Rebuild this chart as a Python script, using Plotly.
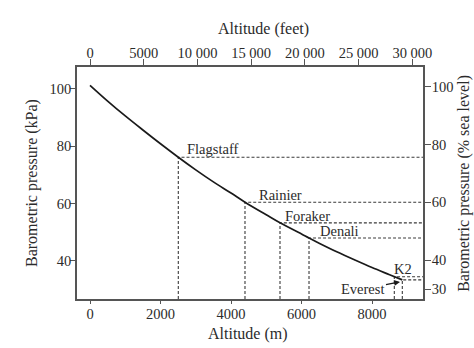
import plotly.graph_objects as go

# Curve: altitude (m) vs barometric pressure (kPa)
alt_m = [0, 500, 1000, 1500, 2000, 2505, 3000, 3500, 4000, 4397, 5000, 5390,
         6000, 6213, 6500, 7000, 7500, 8000, 8500, 8860]
press_kpa = [101.3, 95.8, 90.6, 85.7, 80.9, 76.2, 71.8, 67.6, 63.7, 60.5, 56.1, 53.3,
             49.4, 48.0, 46.2, 43.2, 40.4, 37.7, 35.2, 33.4]

# Peaks
peak_names = ["Flagstaff", "Rainier", "Foraker", "Denali", "K2", "Everest"]
peak_alt = [2505, 4397, 5390, 6213, 8633, 8860]
peak_press = [76.2, 60.5, 53.3, 48.0, 34.5, 33.4]
# label anchor positions (data units)
label_x = [3489, 5390, 6156, 7092, 8879, 7700]
label_y = [79.1, 63.0, 55.7, 50.5, 37.2, 30.2]

xm_ticks = [0, 2000, 4000, 6000, 8000]
ft_ticks = [0, 5000, 10000, 15000, 20000, 25000, 30000]
ft_labels = ["0", "5000", "10 000", "15 000", "20 000", "25 000", "30 000"]
kpa_ticks = [40, 60, 80, 100]
pct_ticks = [30, 40, 60, 80, 100]

XR = [-369, 9447]
YR = [26.74, 107.67]
Y2R = [26.54, 106.8]

FONT = "Liberation Serif, Times New Roman, serif"
TXT = "#2b2b2b"
AX = "#555555"
TICKF = dict(family=FONT, size=14.5, color=TXT)
TITLEF = dict(family=FONT, size=16, color=TXT)

fig = go.Figure()

# dashed guide lines
for a, p in zip(peak_alt, peak_press):
    fig.add_trace(go.Scatter(x=[a, a, XR[1]], y=[YR[0], p, p], mode="lines",
                             line=dict(color="#3a3a3a", width=1.1, dash="3px,2px"),
                             hoverinfo="skip", showlegend=False))

fig.add_trace(go.Scatter(x=alt_m, y=press_kpa, mode="lines",
                         line=dict(color="#1a1a1a", width=1.7, shape="spline"),
                         showlegend=False))

# invisible traces for secondary axes
fig.add_trace(go.Scatter(x=[XR[0] / 0.3048], y=[YR[0]], xaxis="x2", mode="markers",
                         marker=dict(opacity=0), showlegend=False, hoverinfo="skip"))
fig.add_trace(go.Scatter(x=[XR[0]], y=[Y2R[0]], yaxis="y2", mode="markers",
                         marker=dict(opacity=0), showlegend=False, hoverinfo="skip"))

for i, name in enumerate(peak_names):
    if name == "Everest":
        fig.add_annotation(x=8794, y=32.7, text=name, showarrow=True,
                           ax=-37, ay=7, axref="pixel", ayref="pixel",
                           arrowhead=2, arrowsize=0.9, arrowwidth=1.3,
                           arrowcolor="#1a1a1a", standoff=0,
                           font=dict(family=FONT, size=14.5, color=TXT))
    else:
        fig.add_annotation(x=label_x[i], y=label_y[i], text=name, showarrow=False,
                           font=dict(family=FONT, size=14.5, color=TXT))

# axis titles
title_common = dict(xref="paper", yref="paper", showarrow=False, font=TITLEF,
                    xanchor="center", yanchor="middle")
fig.add_annotation(x=0.540, y=1.164, text="Altitude (feet)", **title_common)
fig.add_annotation(x=0.494, y=-0.151, text="Altitude (m)", **title_common)
fig.add_annotation(x=-0.130, y=0.50, text="Barometric pressure (kPa)", textangle=-90,
                   **title_common)
fig.add_annotation(x=1.118, y=0.50, text="Barometric pressure (% sea level)",
                   textangle=-90, **title_common)

axis_common = dict(showline=True, linecolor=AX, linewidth=1.5, showgrid=False,
                   zeroline=False, ticks="outside", tickcolor=AX, tickwidth=1,
                   tickfont=TICKF, automargin=False, ticklen=1)


def minor(vals, length):
    return dict(tickvals=vals, ticks="outside", ticklen=length, tickcolor=AX,
                tickwidth=1, showgrid=False)


fig.update_layout(
    width=474, height=348,
    margin=dict(l=77, r=51, t=67, b=49, autoexpand=False),
    plot_bgcolor="white", paper_bgcolor="white",
    showlegend=False,
    xaxis=dict(range=XR, tickvals=xm_ticks, minor=minor(xm_ticks, 3), **axis_common),
    xaxis2=dict(range=[XR[0] / 0.3048, XR[1] / 0.3048], overlaying="x", side="top",
                tickvals=ft_ticks, ticktext=ft_labels, minor=minor(ft_ticks, 6),
                **axis_common),
    yaxis=dict(range=YR, tickvals=kpa_ticks, minor=minor(kpa_ticks, 5), **axis_common),
    yaxis2=dict(range=Y2R, overlaying="y", side="right", tickvals=pct_ticks,
                minor=minor(pct_ticks, 6), ticklabelstandoff=3, **axis_common),
)

fig.write_html("out.html")
